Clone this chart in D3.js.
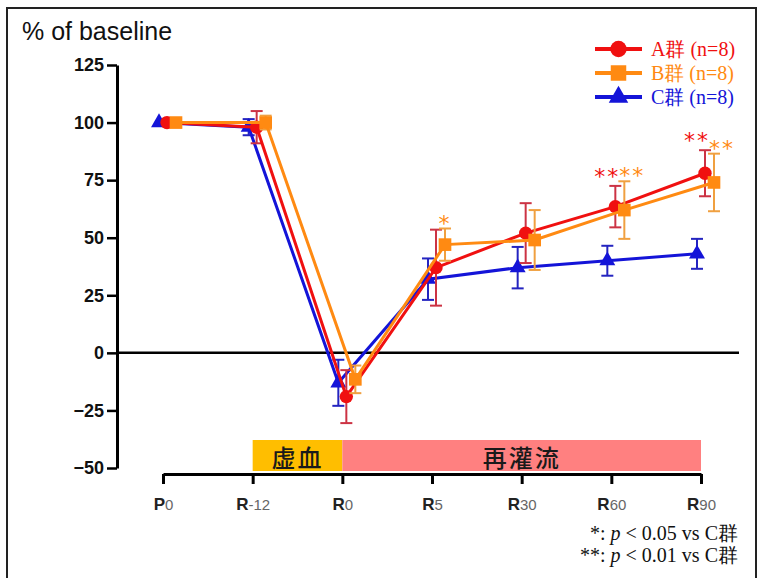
<!DOCTYPE html>
<html>
<head>
<meta charset="utf-8">
<script src="https://cdn.jsdelivr.net/npm/d3@7"></script>
<style>
  body { margin: 0; background: #fff; }
</style>
</head>
<body>
<div id="chart"></div>
<script>
// time points on the x axis
const timepoints = ["P0", "R-12", "R0", "R5", "R30", "R60", "R90"];
const tickMain = ["P", "R", "R", "R", "R", "R", "R"];
const tickSub = ["0", "-12", "0", "5", "30", "60", "90"];
const yTicks = [-50, -25, 0, 25, 50, 75, 100, 125];

// % of baseline, mean and error bar (+/-)
const meanA = [100, 98, -19, 37, 52, 63.5, 78];
const errA  = [0, 7, 11.5, 16.5, 13, 9, 10];
const meanB = [100, 100, -11.5, 47, 49, 62, 74];
const errB  = [0, 3, 6, 7, 13, 12.5, 12.5];
const meanC = [100, 98, -13, 32, 37, 40, 43];
const errC  = [0, 3.5, 10, 9, 9, 6.5, 6.5];

// significance vs C
const sigA = ["", "", "", "", "", "**", "**"];
const sigB = ["", "", "", "*", "", "**", "**"];

const groupNames = ["A群 (n=8)", "B群 (n=8)", "C群 (n=8)"];

// phase bands under the plot
const phaseLabels = ["虚血", "再灌流"];
const phaseStart = ["R-12", "R0"];
const phaseEnd = ["R0", "R90"];

const notes = [["*: ", "p", " < 0.05 vs C群"], ["**: ", "p", " < 0.01 vs C群"]];

const W = 762, H = 578;
const svg = d3.select("#chart").append("svg")
  .attr("width", W)
  .attr("height", H)
  .style("font-family", "'Liberation Sans', Arial, sans-serif");

// frame
svg.append("rect")
  .attr("x", 7).attr("y", 8)
  .attr("width", 749).attr("height", 600)
  .attr("fill", "none").attr("stroke", "#222").attr("stroke-width", 2);

const x = d3.scalePoint().domain(timepoints).range([163, 701]);
const y = d3.scaleLinear().domain([-50, 125]).range([468, 65]);

// title
svg.append("text")
  .attr("x", 22).attr("y", 40)
  .attr("font-size", 25).attr("fill", "#111")
  .text("% of baseline");

// y axis
const yAxis = svg.append("g")
  .attr("transform", "translate(117,0)")
  .call(d3.axisLeft(y).tickValues(yTicks).tickSize(10).tickSizeOuter(0).tickPadding(3));
yAxis.select(".domain").attr("stroke", "#000").attr("stroke-width", 3);
yAxis.selectAll(".tick line").attr("stroke", "#000").attr("stroke-width", 2.5);
yAxis.selectAll(".tick text")
  .attr("font-size", 18).attr("font-weight", "bold").attr("fill", "#111")
  .attr("font-family", "'Liberation Sans', Arial, sans-serif");

// zero line
svg.append("line")
  .attr("x1", 117).attr("x2", 739)
  .attr("y1", y(0)).attr("y2", y(0))
  .attr("stroke", "#000").attr("stroke-width", 2.5);

// phase bands
const phaseColors = ["#FFBE00", "#FF8080"];
phaseLabels.forEach((lab, i) => {
  const x0 = x(phaseStart[i]), x1 = x(phaseEnd[i]);
  svg.append("rect")
    .attr("x", x0).attr("y", 440)
    .attr("width", x1 - x0).attr("height", 31)
    .attr("fill", phaseColors[i]);
  svg.append("text")
    .attr("x", (x0 + x1) / 2).attr("y", 456)
    .attr("text-anchor", "middle").attr("dominant-baseline", "central")
    .attr("font-family", "'Noto Sans CJK JP', sans-serif")
    .attr("font-size", 24).attr("font-weight", 500).attr("fill", "#1a1a1a")
    .attr("letter-spacing", 2)
    .text(lab);
});

// x axis
const xAxis = svg.append("g")
  .attr("transform", "translate(0,474)")
  .call(d3.axisBottom(x).tickSize(10).tickSizeOuter(0).tickPadding(14));
xAxis.select(".domain").attr("stroke", "#000").attr("stroke-width", 3);
xAxis.selectAll(".tick line").attr("stroke", "#000").attr("stroke-width", 3);
xAxis.selectAll(".tick text").each(function(d, i) {
  const t = d3.select(this).text(null)
    .attr("font-family", "'Liberation Sans', Arial, sans-serif")
    .attr("font-size", 17);
  t.append("tspan").attr("font-size", 17).attr("font-weight", "bold").attr("fill", "#222")
    .text(tickMain[i]);
  t.append("tspan").attr("font-size", 15).attr("fill", "#666")
    .text(tickSub[i]);
});

// series
const series = [
  { mean: meanC, err: errC, sig: null, color: "#1414D8", errColor: "#2424C0", shape: d3.symbolTriangle, size: 110, dx: -4 },
  { mean: meanA, err: errA, sig: sigA, color: "#F01010", errColor: "#CC3344", shape: d3.symbolCircle, size: 140, dx: 4, sigDy: -14 },
  { mean: meanB, err: errB, sig: sigB, color: "#FF8A12", errColor: "#F0A040", shape: d3.symbolSquare, size: 160, dx: 13, sigDy: -10 }
];

series.forEach(s => {
  const g = svg.append("g");
  const px = i => x(timepoints[i]) + s.dx;

  // error bars
  const eb = g.selectAll(".eb").data(timepoints.map((t, i) => i).filter(i => s.err[i] > 0))
    .enter().append("g").attr("stroke", s.errColor).attr("stroke-width", 2);
  eb.append("line")
    .attr("x1", px).attr("x2", px)
    .attr("y1", i => y(s.mean[i] + s.err[i]))
    .attr("y2", i => y(s.mean[i] - s.err[i]));
  eb.append("line")
    .attr("x1", i => px(i) - 6).attr("x2", i => px(i) + 6)
    .attr("y1", i => y(s.mean[i] + s.err[i])).attr("y2", i => y(s.mean[i] + s.err[i]));
  eb.append("line")
    .attr("x1", i => px(i) - 6).attr("x2", i => px(i) + 6)
    .attr("y1", i => y(s.mean[i] - s.err[i])).attr("y2", i => y(s.mean[i] - s.err[i]));

  // line
  const line = d3.line().x((d, i) => px(i)).y(d => y(d));
  g.append("path")
    .attr("d", line(s.mean))
    .attr("fill", "none").attr("stroke", s.color).attr("stroke-width", 3);

  // markers
  g.selectAll(".pt").data(s.mean).enter().append("path")
    .attr("d", d3.symbol().type(s.shape).size(s.size))
    .attr("transform", (d, i) => `translate(${px(i)},${y(d)})`)
    .attr("fill", s.color);
});

// significance stars
series.filter(s => s.sig).forEach(s => {
  s.sig.forEach((mark, i) => {
    if (!mark) return;
    const cx = x(timepoints[i]) + s.dx + (mark.length > 1 ? (s.dx > 5 ? 8 : -8) : 0);
    const cy = y(s.mean[i] + s.err[i]) + s.sigDy;
    svg.append("text")
      .attr("x", cx).attr("y", cy + 12)
      .attr("text-anchor", "middle")
      .attr("font-family", "'DejaVu Sans', sans-serif")
      .attr("font-size", 22).attr("fill", s.color)
      .attr("letter-spacing", 2)
      .text(mark);
  });
});

// legend
const legendSeries = [series[1], series[2], series[0]];
legendSeries.forEach((s, i) => {
  const ly = 49 + i * 24;
  svg.append("line")
    .attr("x1", 595).attr("x2", 642).attr("y1", ly).attr("y2", ly)
    .attr("stroke", s.color).attr("stroke-width", 4);
  svg.append("path")
    .attr("d", d3.symbol().type(s.shape).size(s.size * 1.5))
    .attr("transform", `translate(618.5,${ly})`)
    .attr("fill", s.color);
  svg.append("text")
    .attr("x", 651).attr("y", ly).attr("dy", "0.35em")
    .attr("font-family", "'Liberation Serif', 'Times New Roman', serif")
    .attr("font-size", 20).attr("fill", s.color)
    .text(groupNames[i]);
});

// footnotes
notes.forEach((n, i) => {
  const t = svg.append("text")
    .attr("x", 738).attr("y", 540 + i * 22)
    .attr("text-anchor", "end")
    .attr("font-family", "'Liberation Serif', 'Times New Roman', serif")
    .attr("font-size", 20).attr("fill", "#111");
  t.append("tspan").text(n[0]);
  t.append("tspan").attr("font-style", "italic").text(n[1]);
  t.append("tspan").text(n[2]);
});
</script>
</body>
</html>
